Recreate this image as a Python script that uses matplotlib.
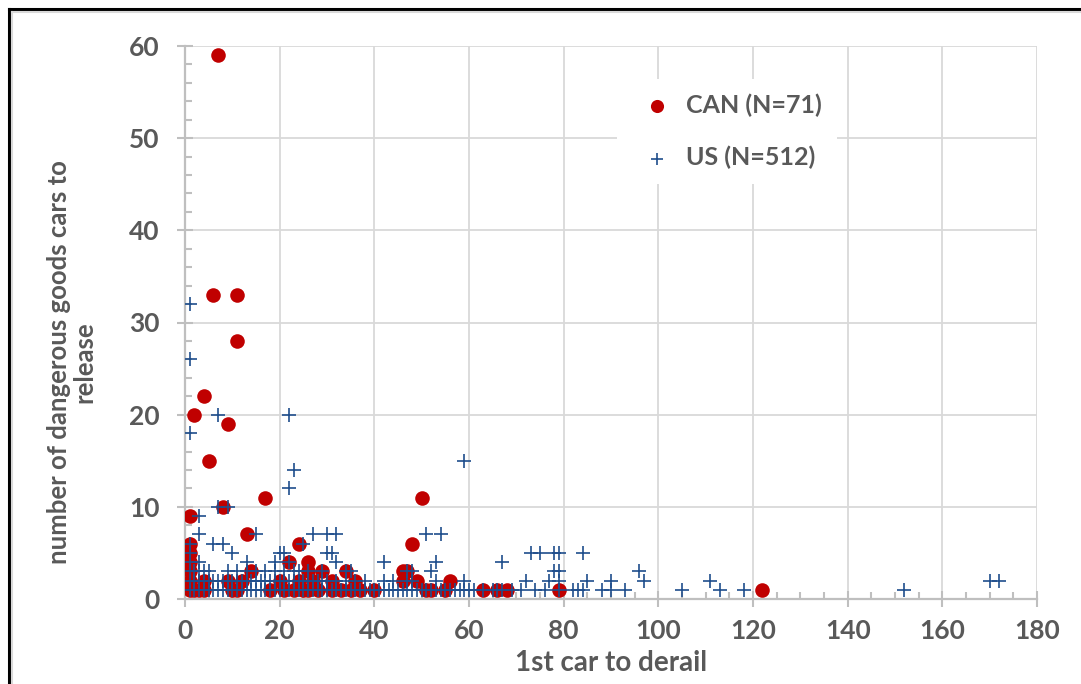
import matplotlib
matplotlib.use("Agg")
import matplotlib.pyplot as plt
from matplotlib.lines import Line2D
from matplotlib.ticker import MultipleLocator

plt.rcParams['font.family'] = ['Lato', 'DejaVu Sans']
plt.rcParams['font.weight'] = 'bold'

# ---- data: CAN (N=71) ----
can_x = [7, 6, 11, 11, 4, 2, 9, 5, 17, 50, 8, 1, 13, 24, 48,
         1, 1, 1, 1, 1, 1, 22, 26, 14, 26, 29, 34, 46, 47,
         4, 9, 12, 20, 24, 27, 31, 36, 49, 56, 46,
         4, 11, 18, 21, 23, 26, 31, 33, 37, 40, 51, 52, 55, 63, 66, 68, 79, 122,
         2, 3, 10, 25, 28, 35]
can_y = [59, 33, 33, 28, 22, 20, 19, 15, 11, 11, 10, 9, 7, 6, 6,
         6, 5, 4, 3, 2, 1, 4, 4, 3, 3, 3, 3, 3, 3,
         2, 2, 2, 2, 2, 2, 2, 2, 2, 2, 2,
         1, 1, 1, 1, 1, 1, 1, 1, 1, 1, 1, 1, 1, 1, 1, 1, 1, 1,
         1, 1, 1, 1, 1, 1]

# ---- data: US (N=512) ----
us_x1 = [1, 2, 3, 4, 5, 6, 7, 8, 9, 10, 11, 12, 13, 14, 15, 16, 17, 18, 19, 20,
         21, 22, 23, 24, 25, 26, 27, 28, 29, 30, 31, 32, 33, 34, 35, 36, 37, 38, 39, 40,
         41, 42, 43, 44, 45, 46, 47, 48, 49, 50, 51, 52, 53, 54, 55, 56, 57, 58, 59, 60,
         61, 63, 65, 66, 67, 69, 71, 74, 76, 79, 82, 83, 84, 88, 90, 93, 105, 113, 118, 152]
us_x2 = [1, 2, 3, 4, 5, 6, 7, 8, 9, 10, 11, 12, 13, 14, 15, 16, 17, 18, 19, 20,
         21, 22, 23, 24, 25, 26, 27, 28, 29, 30, 32, 34, 36, 38, 42, 44, 47, 48, 53, 59,
         72, 77, 79, 85, 90, 97, 111, 170, 172]
us_x3 = [1, 2, 3, 4, 5, 9, 11, 13, 15, 17, 19, 21, 23, 24, 26, 29, 34, 35, 47, 48, 52,
         78, 79, 96]
us_x4 = [1, 3, 13, 19, 22, 32, 42, 53, 67]
us_x5 = [1, 10, 20, 21, 30, 31, 73, 75, 78, 79, 84]
us_x6 = [1, 6, 8, 25]
us_x7 = [3, 15, 27, 30, 32, 51, 54]
us_hi_x = [3, 7, 9, 22, 23, 59, 1, 7, 22, 1, 1]
us_hi_y = [9, 10, 10, 12, 14, 15, 18, 20, 20, 26, 32]

us_x = us_x1 + us_x2 + us_x3 + us_x4 + us_x5 + us_x6 + us_x7 + us_hi_x
us_y = ([1] * len(us_x1) + [2] * len(us_x2) + [3] * len(us_x3) + [4] * len(us_x4)
        + [5] * len(us_x5) + [6] * len(us_x6) + [7] * len(us_x7) + us_hi_y)

x_ticks = [0, 20, 40, 60, 80, 100, 120, 140, 160, 180]
y_ticks = [0, 10, 20, 30, 40, 50, 60]

W, H = 1081, 684
fig = plt.figure(figsize=(W / 100, H / 100), dpi=100)
ax = fig.add_axes([185 / W, 85 / H, (1037 - 185) / W, (599 - 46) / H])

grey = '#595959'
ax.scatter(can_x, can_y, s=110, color='#C00000', marker='o', linewidths=0,
           label='CAN (N=71)', zorder=3)
ax.scatter(us_x, us_y, s=90, color='#1F4E8C', marker='+', linewidths=1.2,
           label='US (N=512)', zorder=4)

ax.set_xlim(0, 180)
ax.set_ylim(0, 60)
ax.set_xticks(x_ticks)
ax.set_yticks(y_ticks)
ax.xaxis.set_minor_locator(MultipleLocator(5))
ax.yaxis.set_minor_locator(MultipleLocator(2))
ax.grid(True, which='major', color='#D9D9D9', linewidth=1.3, zorder=0)
ax.set_axisbelow(True)
for s in ['top', 'right']:
    ax.spines[s].set_visible(False)
for s in ['left', 'bottom']:
    ax.spines[s].set_color('#BFBFBF')
    ax.spines[s].set_linewidth(1.6)
ax.tick_params(which='major', direction='inout', length=11, width=1.5,
               color='#BFBFBF', labelsize=19, labelcolor=grey)
ax.tick_params(which='minor', direction='in', length=5, width=1.5, color='#BFBFBF')
ax.tick_params(axis='y', which='major', pad=13)
ax.tick_params(axis='x', which='major', pad=9)
for lab in ax.get_xticklabels() + ax.get_yticklabels():
    lab.set_fontweight('bold')

ax.set_xlabel('1st car to derail', fontsize=20, fontweight='bold', color=grey)
ax.xaxis.set_label_coords(0.5, -(663 - 599) / 553, transform=ax.transAxes)
ax.xaxis.label.set_va('center')
ax.set_ylabel('number of dangerous goods cars to\nrelease', fontsize=18.5,
              fontweight='bold', color=grey, linespacing=1.05)
ax.yaxis.set_label_coords(-(185 - 72) / 852, (599 - 362) / 553)
ax.yaxis.label.set_va('center')

leg = ax.legend(loc='upper left', bbox_to_anchor=((604 - 185) / 852, (599 - 66) / 553),
                frameon=True, facecolor='white', edgecolor='none', framealpha=1,
                fontsize=18, labelspacing=1.15, handletextpad=0.2,
                borderpad=0.6, markerscale=0.9, scatterpoints=1)
for t in leg.get_texts():
    t.set_color(grey)
    t.set_fontweight('bold')

# figure border (left and top)
fig.add_artist(Line2D([9 / W, 9 / W], [0, 1 - 9 / H], transform=fig.transFigure,
                      color='black', linewidth=2.2))
fig.add_artist(Line2D([9 / W, 1], [1 - 9 / H, 1 - 9 / H], transform=fig.transFigure,
                      color='black', linewidth=2.2))
fig.add_artist(Line2D([12 / W, 12 / W], [0, 1 - 12 / H], transform=fig.transFigure,
                      color='#D9D9D9', linewidth=1.5))
fig.add_artist(Line2D([12 / W, 1], [1 - 12 / H, 1 - 12 / H], transform=fig.transFigure,
                      color='#D9D9D9', linewidth=1.5))

fig.savefig('out.png', dpi=100)
